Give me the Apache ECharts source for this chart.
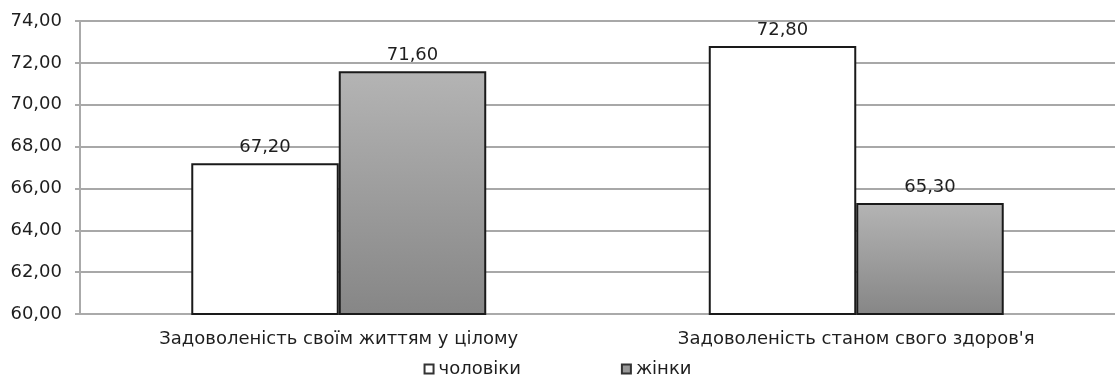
<!DOCTYPE html>
<html><head><meta charset="utf-8">
<script src="https://cdn.jsdelivr.net/npm/echarts@6/dist/echarts.min.js"></script>
<style>html,body{margin:0;padding:0;background:#fff}#c{width:1115px;height:378px}</style>
</head><body><div id="c"></div>
<script>
const categories = ['Задоволеність своїм життям у цілому', "Задоволеність станом свого здоров'я"];
const seriesNames = ['чоловіки', 'жінки'];
const menValues = [67.2, 72.8];
const womenValues = [71.6, 65.3];
const yMin = 60, yMax = 74, yStep = 2;

const chart = echarts.init(document.getElementById('c'));
const fmt = v => v.toFixed(2).replace('.', ',');
const font = 'DejaVu Sans, Arial, sans-serif';
const fs = 18;
const grayFill = new echarts.graphic.LinearGradient(0, 0, 0, 1, [
  {offset: 0, color: '#b4b4b4'}, {offset: 1, color: '#868686'}
]);
chart.setOption({
  animation: false,
  grid: {left: 80, right: 0, top: 21, bottom: 64},
  legend: {
    bottom: 0, left: 'center', itemGap: 100, itemWidth: 9, itemHeight: 9,
    padding: 0,
    icon: 'rect',
    textStyle: {fontFamily: font, fontSize: fs, color: '#1e1e1e'},
    data: [
      {name: seriesNames[0], itemStyle: {color: '#fff', borderColor: '#333', borderWidth: 2}},
      {name: seriesNames[1], itemStyle: {color: '#999', borderColor: '#333', borderWidth: 2}}
    ]
  },
  xAxis: {
    type: 'category', data: categories,
    axisLine: {lineStyle: {color: '#aaa', width: 2}},
    axisTick: {show: false},
    axisLabel: {fontFamily: font, fontSize: fs, color: '#1e1e1e', margin: 16}
  },
  yAxis: {
    type: 'value', min: yMin, max: yMax, interval: yStep,
    axisLine: {show: true, lineStyle: {color: '#aaa', width: 2}},
    axisTick: {show: true, length: 5, lineStyle: {color: '#aaa', width: 2}},
    splitLine: {lineStyle: {color: '#a8a8a8', width: 2}},
    axisLabel: {fontFamily: font, fontSize: fs, color: '#1e1e1e', margin: 18, formatter: v => fmt(v)}
  },
  series: [
    {
      name: seriesNames[0], type: 'bar', data: menValues,
      barGap: '0%', barCategoryGap: '43%',
      itemStyle: {color: '#fff', borderColor: '#1a1a1a', borderWidth: 2},
      label: {show: true, position: 'top', distance: 7, fontFamily: font, fontSize: fs, color: '#1e1e1e', formatter: p => fmt(p.value)}
    },
    {
      name: seriesNames[1], type: 'bar', data: womenValues,
      barGap: '0%', barCategoryGap: '43%',
      itemStyle: {color: grayFill, borderColor: '#1a1a1a', borderWidth: 2},
      label: {show: true, position: 'top', distance: 7, fontFamily: font, fontSize: fs, color: '#1e1e1e', formatter: p => fmt(p.value)}
    }
  ]
});
</script></body></html>
